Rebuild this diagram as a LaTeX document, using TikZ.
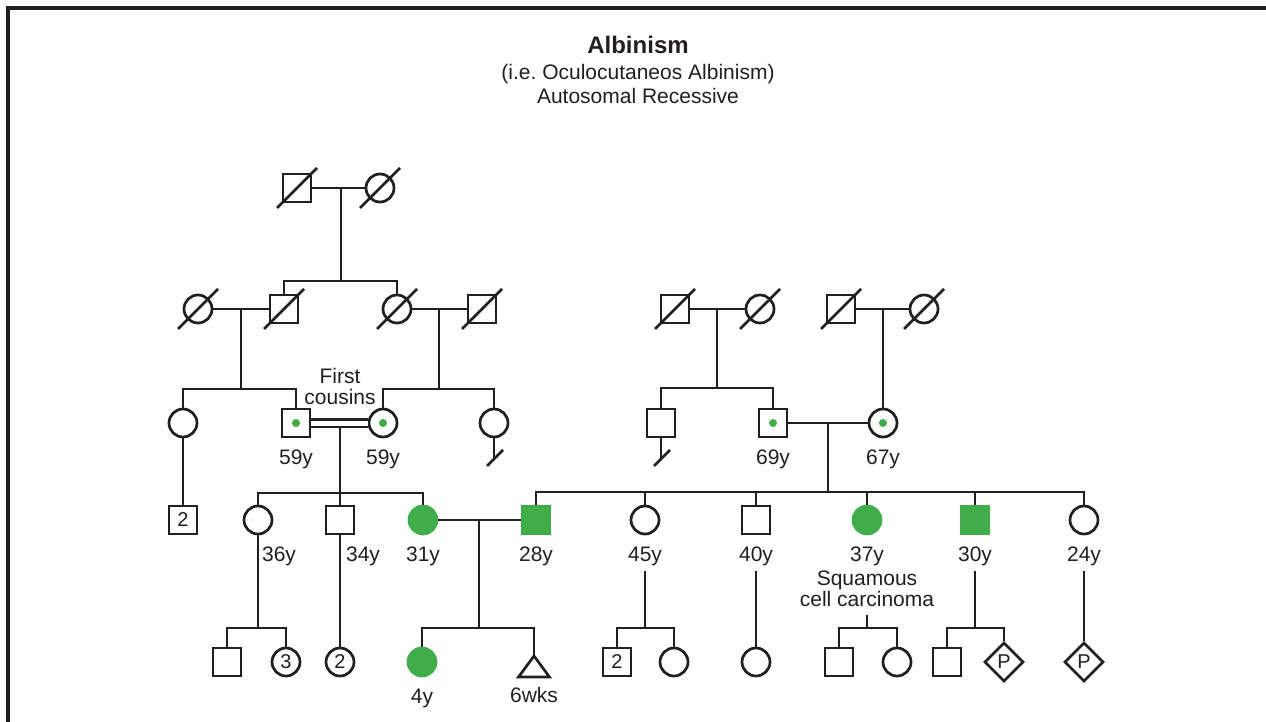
\documentclass[tikz,border=0pt]{standalone}
\usepackage{fontspec}
\setmainfont{Liberation Sans}
\usetikzlibrary{calc, positioning, shapes.geometric}
\definecolor{albgreen}{RGB}{64,173,74}
\definecolor{ink}{RGB}{35,31,32}

\begin{document}
\begin{tikzpicture}[
	x=1pt, y=-1pt, line width=2.7pt, color=ink,
	sym/.style = {draw, inner sep=0pt, minimum size=28pt, font=\fontsize{20}{20}\selectfont},
	male/.style = {sym, rectangle},
	female/.style = {sym, circle},
	unknown/.style = {sym, diamond, minimum size=39pt},
	affected/.style = {fill=albgreen, draw=albgreen},
	carrier/.style = {path picture={\fill[albgreen] (path picture bounding box.center) circle (4pt);}},
	every label/.style = {font=\fontsize{21}{21}\selectfont, inner sep=0pt},
	label distance=10pt,
	note/.style = {font=\fontsize{21}{21}\selectfont, inner sep=0pt, align=center},
	title/.style = {font=\bfseries\fontsize{24}{24}\selectfont, inner sep=0pt}
]
\useasboundingbox (0,0) rectangle (1266,722);
\draw[line width=3.2pt] (1266,8) -| (8,722);

% heading
\node[title, anchor=base] (title) at (638,54) {Albinism};
\node[note, anchor=base] (subtitle) at (638,80) {(i.e.\ Oculocutaneos Albinism)};
\node[note, anchor=base] (mode) at (638,104) {Autosomal Recessive};

% generation I
\node[male] (gIm) at (297,188) {};
\node[female] (gIf) at (380,188) {};

% generation II
\node[female] (gIIa) at (198,309) {};
\node[male] (gIIb) at (284,309) {};
\node[female] (gIIc) at (397,309) {};
\node[male] (gIId) at (482,309) {};
\node[male] (gIrm) at (675,309) {};
\node[female] (gIrf) at (760,309) {};
\node[male] (gIsm) at (841,309) {};
\node[female] (gIsf) at (924,309) {};

% generation III
\node[female] (gIIIa) at (183,423) {};
\node[male, carrier, label={below:59y}] (gIIIb) at (296,423) {};
\node[female, carrier, label={below:59y}] (gIIIc) at (383,423) {};
\node[female] (gIIId) at (494,423) {};
\node[male] (gIIIe) at (661,423) {};
\node[male, carrier, label={below:69y}] (gIIIf) at (773,423) {};
\node[female, carrier, label={below:67y}] (gIIIg) at (883,423) {};
\node[note, anchor=north] (cousins) at (340,367) {First\\cousins};

% generation IV
\node[male] (gIVz) at (183,520) {2};
\node[female, label={[xshift=21pt]below:36y}] (gIVa) at (258,520) {};
\node[male, label={[xshift=23pt]below:34y}] (gIVb) at (340,520) {};
\node[female, affected, label={below:31y}] (gIVc) at (423,520) {};
\node[male, affected, label={below:28y}] (gIVd) at (536,520) {};
\node[female, label={[name=a45]below:45y}] (gIVe) at (645,520) {};
\node[male, label={[name=a40]below:40y}] (gIVf) at (756,520) {};
\node[female, affected, label={[name=a37]below:37y}] (gIVg) at (867,520) {};
\node[male, affected, label={[name=a30]below:30y}] (gIVh) at (975,520) {};
\node[female, label={[name=a24]below:24y}] (gIVi) at (1084,520) {};
\node[note, below=2pt of a37] (sqnote) {Squamous\\cell carcinoma};

% generation V
\node[male] (gVa) at (227,662) {};
\node[female] (gVb) at (286,662) {3};
\node[female] (gVc) at (340,662) {2};
\node[female, affected, label={below:4y}] (gVd) at (422,662) {};
\coordinate (gVe) at (534,656);
\draw (gVe) -- ++(-15.5,21) -- ++(31,0) -- cycle;
\node[note, anchor=north] (a6w) at (534,686) {6wks};
\node[male] (gVf) at (617,662) {2};
\node[female] (gVg) at (674,662) {};
\node[female] (gVh) at (756,662) {};
\node[male] (gVi) at (839,662) {};
\node[female] (gVj) at (897,662) {};
\node[male] (gVk) at (947,662) {};
\node[unknown] (gVl) at (1004,662) {P};
\node[unknown] (gVm) at (1084,662) {P};

% deceased
\foreach \n in {gIm, gIf, gIIa, gIIb, gIIc, gIId, gIrm, gIrf, gIsm, gIsf}
	\draw ($(\n)+(-20,20)$) -- ($(\n)+(20,-20)$);

% lines of descent, left family
\coordinate (sI) at (341,281);
\draw (gIm) -- (gIf);
\draw (sI |- gIm) -- (sI);
\draw (gIIb.north) |- (sI) -| (gIIc.north);
\coordinate (sIIa) at (241,389);
\coordinate (sIIb) at (439,389);
\draw (gIIa) -- (gIIb);
\draw (gIIc) -- (gIId);
\draw (sIIa |- gIIa) -- (sIIa);
\draw (sIIb |- gIIc) -- (sIIb);
\draw (gIIIa.north) |- (sIIa) -| (gIIIb.north);
\draw (gIIIc.north) |- (sIIb) -| (gIIId.north);
\draw (gIIIa) -- (gIVz);
\coordinate (endD) at (495,458);
\draw (gIIId) -- (gIIId |- endD);
\draw ($(endD)+(-8,8)$) -- ($(endD)+(8,-8)$);
\draw[double=white, double distance=5pt] (gIIIb) -- (gIIIc);
\coordinate (cons) at (340,427);
\coordinate (sIIIa) at (340,493);
\draw (cons) -- (gIVb.north);
\draw (gIVa.north) |- (sIIIa) -| (gIVc.north);

% lines of descent, right family
\coordinate (sIr) at (717,388);
\draw (gIrm) -- (gIrf);
\draw (sIr |- gIrm) -- (sIr);
\draw (gIIIe.north) |- (sIr) -| (gIIIf.north);
\draw (gIsm) -- (gIsf);
\draw (gIIIg |- gIsm) -- (gIIIg.north);
\coordinate (endE) at (662,458);
\draw (gIIIe) -- (gIIIe |- endE);
\draw ($(endE)+(-8,8)$) -- ($(endE)+(8,-8)$);
\draw (gIIIf) -- (gIIIg);
\coordinate (sIIIb) at (828,492);
\draw (sIIIb |- gIIIf) -- (sIIIb);
\draw (gIVd.north) |- (sIIIb) -| (gIVi.north);
\foreach \n in {gIVe, gIVf, gIVg, gIVh}
	\draw (\n.north) -- (\n.north |- sIIIb);

% generation IV to V
\coordinate (sIVa) at (258,628);
\draw (gIVa) -- (sIVa);
\draw (gVa.north) |- (sIVa) -| (gVb.north);
\draw (gIVb) -- (gVc);
\draw (gIVc) -- (gIVd);
\coordinate (sIVc) at (479,628);
\draw (sIVc |- gIVc) -- (sIVc);
\draw (gVd.north) |- (sIVc) -| (gVe);
\coordinate (sIVe) at (645,628);
\draw[shorten <=4pt] (a45.south) -- (sIVe);
\draw (gVf.north) |- (sIVe) -| (gVg.north);
\draw[shorten <=4pt] (a40.south) -- (gVh.north);
\coordinate (sIVg) at (867,628);
\draw[shorten <=7pt] (sqnote.south) -- (sIVg);
\draw (gVi.north) |- (sIVg) -| (gVj.north);
\coordinate (sIVh) at (975,628);
\draw[shorten <=4pt] (a30.south) -- (sIVh);
\draw (gVk.north) |- (sIVh) -| (gVl.north);
\draw[shorten <=4pt] (a24.south) -- (gVm.north);

\end{tikzpicture}
\end{document}
